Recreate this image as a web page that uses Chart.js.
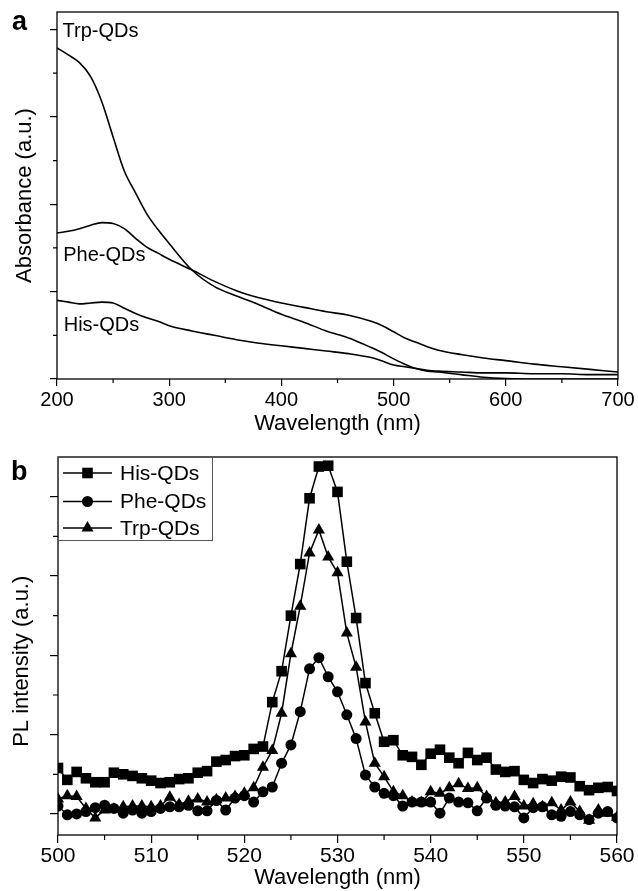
<!DOCTYPE html>
<html>
<head>
<meta charset="utf-8">
<script src="https://cdn.jsdelivr.net/npm/chart.js"></script>
<style>
  body { margin: 0; background: #fff; }
  #wrap { position: relative; width: 638px; height: 891px; }
  canvas { position: absolute; left: 0; }
  #absChart { top: 0; }
  #plChart { top: 440px; }
</style>
</head>
<body>
<div id="wrap">
  <canvas id="absChart" width="638" height="440"></canvas>
  <canvas id="plChart" width="638" height="451"></canvas>
</div>
<script>
// panel a - absorbance
const absWavelength = [200, 210, 220, 230, 240, 250, 260, 270, 280, 290, 300, 320, 340, 360, 380, 400, 420, 440, 460, 480, 490, 500, 510, 520, 530, 540, 560, 580, 600, 625, 650, 675, 700];
const absTrp = [3.79, 3.71, 3.62, 3.46, 3.17, 2.77, 2.38, 2.13, 1.89, 1.71, 1.55, 1.25, 1.06, 0.95, 0.85, 0.74, 0.65, 0.55, 0.47, 0.36, 0.30, 0.23, 0.17, 0.12, 0.09, 0.08, 0.05, 0.02, 0.005, 0, 0, 0, 0];
const absPhe = [1.67, 1.69, 1.72, 1.76, 1.79, 1.78, 1.72, 1.61, 1.51, 1.44, 1.37, 1.25, 1.12, 1.01, 0.93, 0.87, 0.82, 0.77, 0.73, 0.66, 0.61, 0.54, 0.47, 0.42, 0.37, 0.33, 0.28, 0.24, 0.21, 0.17, 0.14, 0.11, 0.08];
const absHis = [0.90, 0.88, 0.86, 0.87, 0.88, 0.87, 0.81, 0.75, 0.70, 0.66, 0.61, 0.55, 0.50, 0.45, 0.41, 0.38, 0.35, 0.32, 0.29, 0.245, 0.205, 0.16, 0.14, 0.12, 0.10, 0.09, 0.08, 0.07, 0.07, 0.06, 0.06, 0.05, 0.05];
const absXTicks = [200, 300, 400, 500, 600, 700];
const absXMinor = [250, 350, 450, 550, 650];
const absYTicks = [0, 1, 2, 3, 4];
const absYMinor = [0.5, 1.5, 2.5, 3.5];

// panel b - PL
const plWavelength = [500, 501, 502, 503, 504, 505, 506, 507, 508, 509, 510, 511, 512, 513, 514, 515, 516, 517, 518, 519, 520, 521, 522, 523, 524, 525, 526, 527, 528, 529, 530, 531, 532, 533, 534, 535, 536, 537, 538, 539, 540, 541, 542, 543, 544, 545, 546, 547, 548, 549, 550, 551, 552, 553, 554, 555, 556, 557, 558, 559, 560];
const plHis = [0.58, 0.43, 0.53, 0.45, 0.40, 0.40, 0.52, 0.50, 0.48, 0.45, 0.42, 0.39, 0.40, 0.44, 0.45, 0.52, 0.54, 0.66, 0.68, 0.73, 0.74, 0.82, 0.85, 1.41, 1.80, 2.50, 3.15, 3.98, 4.38, 4.39, 4.06, 3.18, 2.47, 1.65, 1.27, 0.91, 0.93, 0.74, 0.72, 0.62, 0.76, 0.81, 0.71, 0.64, 0.77, 0.68, 0.71, 0.56, 0.53, 0.54, 0.43, 0.39, 0.44, 0.42, 0.47, 0.46, 0.35, 0.30, 0.33, 0.34, 0.29];
const plPhe = [0.10, -0.01, 0.00, 0.03, 0.08, 0.11, 0.07, 0.01, 0.05, 0.01, 0.03, 0.07, 0.09, 0.09, 0.11, 0.04, 0.04, 0.17, 0.05, 0.20, 0.23, 0.15, 0.28, 0.34, 0.64, 0.87, 1.29, 1.83, 1.97, 1.73, 1.54, 1.25, 0.95, 0.49, 0.34, 0.26, 0.23, 0.10, 0.15, 0.15, 0.15, 0.01, 0.20, 0.15, 0.14, 0.04, 0.20, 0.11, 0.10, 0.09, -0.05, 0.08, 0.09, -0.01, -0.03, 0.03, -0.01, -0.07, 0.01, 0.03, -0.05];
const plTrp = [0.19, 0.23, 0.22, 0.07, -0.05, 0.05, 0.06, 0.09, 0.10, 0.10, 0.09, 0.10, 0.21, 0.12, 0.16, 0.19, 0.15, 0.18, 0.20, 0.22, 0.26, 0.33, 0.59, 0.80, 1.27, 2.02, 2.62, 3.29, 3.58, 3.24, 3.04, 2.28, 1.85, 1.16, 0.64, 0.47, 0.28, 0.23, 0.15, 0.14, 0.28, 0.26, 0.33, 0.38, 0.32, 0.33, 0.22, 0.14, 0.15, 0.22, 0.10, 0.13, 0.09, 0.14, 0.05, 0.15, 0.03, -0.08, 0.05, 0.01, -0.04];
const plXTicks = [500, 510, 520, 530, 540, 550, 560];
const plXMinor = [505, 515, 525, 535, 545, 555];
const plYTicks = [0, 1, 2, 3, 4];
const plYMinor = [0.5, 1.5, 2.5, 3.5];

Chart.defaults.font.family = '"Liberation Sans", Arial, Helvetica, sans-serif';
Chart.defaults.color = '#000';

function points(xs, ys) {
  return xs.map((x, i) => ({ x: x, y: ys[i] }));
}

// box round the plot area
const frame = {
  id: 'frame',
  afterDraw(chart) {
    const { ctx, chartArea: a } = chart;
    ctx.save();
    ctx.strokeStyle = '#000';
    ctx.lineWidth = 1.3;
    ctx.strokeRect(a.left, a.top, a.right - a.left, a.bottom - a.top);
    ctx.restore();
  }
};

// short ticks between the labelled ones
const minorTicks = {
  id: 'minorTicks',
  afterDraw(chart, args, opts) {
    const { ctx, chartArea: a, scales } = chart;
    ctx.save();
    ctx.strokeStyle = '#000';
    ctx.lineWidth = 1.2;
    ctx.beginPath();
    (opts.x || []).forEach(v => {
      const px = scales.x.getPixelForValue(v);
      ctx.moveTo(px, a.bottom);
      ctx.lineTo(px, a.bottom + opts.len);
    });
    (opts.y || []).forEach(v => {
      const py = scales.y.getPixelForValue(v);
      ctx.moveTo(a.left, py);
      ctx.lineTo(a.left - opts.len, py);
    });
    ctx.stroke();
    ctx.restore();
  }
};

const panelTag = {
  id: 'panelTag',
  afterDraw(chart, args, opts) {
    const ctx = chart.ctx;
    ctx.save();
    ctx.font = 'bold 27px "Liberation Sans", Arial, sans-serif';
    ctx.fillStyle = '#000';
    ctx.textBaseline = 'alphabetic';
    ctx.fillText(opts.text, opts.x, opts.y);
    ctx.restore();
  }
};

// names written next to the curves (panel a)
const curveLabels = {
  id: 'curveLabels',
  afterDraw(chart, args, opts) {
    const { ctx, scales } = chart;
    ctx.save();
    ctx.font = '20px "Liberation Sans", Arial, sans-serif';
    ctx.fillStyle = '#000';
    ctx.textBaseline = 'alphabetic';
    (opts.items || []).forEach(it => {
      ctx.fillText(it.text, scales.x.getPixelForValue(it.x), scales.y.getPixelForValue(it.y));
    });
    ctx.restore();
  }
};

function drawMarker(ctx, style, x, y, r) {
  ctx.beginPath();
  if (style === 'rect') {
    const s = Math.SQRT1_2 * r;
    ctx.rect(x - s, y - s, 2 * s, 2 * s);
  } else if (style === 'circle') {
    ctx.arc(x, y, r, 0, Math.PI * 2);
  } else {
    ctx.moveTo(x, y - r);
    ctx.lineTo(x + r * Math.sin(2 * Math.PI / 3), y + r / 2);
    ctx.lineTo(x - r * Math.sin(2 * Math.PI / 3), y + r / 2);
    ctx.closePath();
  }
  ctx.fill();
}

// legend with line + marker inside a box (panel b)
const plLegend = {
  id: 'plLegend',
  afterDraw(chart) {
    const { ctx, chartArea: a } = chart;
    const left = a.left, top = a.top;
    ctx.save();
    ctx.fillStyle = '#fff';
    ctx.fillRect(left + 1, top + 1, 153, 82);
    ctx.strokeStyle = '#555';
    ctx.lineWidth = 1;
    ctx.strokeRect(left + 0.5, top + 0.5, 154, 83);
    const rows = [16, 44.5, 71];
    chart.data.datasets.forEach((ds, i) => {
      const y = top + rows[i];
      ctx.strokeStyle = '#000';
      ctx.lineWidth = 1.5;
      ctx.beginPath();
      ctx.moveTo(left + 5, y);
      ctx.lineTo(left + 54, y);
      ctx.stroke();
      ctx.fillStyle = '#000';
      drawMarker(ctx, ds.pointStyle, left + 29.5, y, ds.pointRadius);
      ctx.font = '21px "Liberation Sans", Arial, sans-serif';
      ctx.textBaseline = 'middle';
      ctx.fillText(ds.label, left + 62, y + 1);
    });
    ctx.restore();
  }
};

function axisGrid(len) {
  return { drawOnChartArea: false, drawTicks: true, tickLength: len, color: '#000', tickColor: '#000', lineWidth: 1.2 };
}

const absChart = new Chart(document.getElementById('absChart'), {
  type: 'line',
  data: {
    datasets: [
      { label: 'Trp-QDs', data: points(absWavelength, absTrp), borderColor: '#000', borderWidth: 1.6, pointRadius: 0, cubicInterpolationMode: 'monotone' },
      { label: 'Phe-QDs', data: points(absWavelength, absPhe), borderColor: '#000', borderWidth: 1.6, pointRadius: 0, cubicInterpolationMode: 'monotone' },
      { label: 'His-QDs', data: points(absWavelength, absHis), borderColor: '#000', borderWidth: 1.6, pointRadius: 0, cubicInterpolationMode: 'monotone' }
    ]
  },
  options: {
    responsive: false,
    animation: false,
    layout: { padding: { top: 12, right: 20, left: 0, bottom: 0 } },
    plugins: {
      legend: { display: false },
      tooltip: { enabled: false },
      minorTicks: { x: absXMinor, y: absYMinor, len: 4 },
      panelTag: { text: 'a', x: 12, y: 30 },
      curveLabels: {
        items: [
          { text: 'Trp-QDs', x: 205, y: 3.91 },
          { text: 'Phe-QDs', x: 205.5, y: 1.35 },
          { text: 'His-QDs', x: 206, y: 0.55 }
        ]
      }
    },
    scales: {
      x: {
        type: 'linear', min: 200, max: 700,
        afterBuildTicks: s => { s.ticks = absXTicks.map(v => ({ value: v })); },
        afterFit: s => { s.height = 61; },
        grid: axisGrid(7),
        border: { display: false },
        ticks: { font: { size: 20 }, padding: 2, maxRotation: 0 },
        title: { display: true, text: 'Wavelength (nm)', font: { size: 22 }, padding: { top: 0, bottom: 3 } }
      },
      y: {
        type: 'linear', min: 0, max: 4.2,
        afterBuildTicks: s => { s.ticks = absYTicks.map(v => ({ value: v })); },
        afterFit: s => { s.width = 57; },
        grid: axisGrid(7),
        border: { display: false },
        ticks: { display: false },
        title: { display: true, text: 'Absorbance (a.u.)', font: { size: 22 }, padding: { top: 12, bottom: 0 } }
      }
    }
  },
  plugins: [frame, minorTicks, panelTag, curveLabels]
});

const plChart = new Chart(document.getElementById('plChart'), {
  type: 'line',
  data: {
    datasets: [
      { label: 'His-QDs', data: points(plWavelength, plHis), borderColor: '#000', borderWidth: 1.5, pointStyle: 'rect', pointRadius: 7.5, pointBackgroundColor: '#000', pointBorderWidth: 0 },
      { label: 'Phe-QDs', data: points(plWavelength, plPhe), borderColor: '#000', borderWidth: 1.5, pointStyle: 'circle', pointRadius: 5.5, pointBackgroundColor: '#000', pointBorderWidth: 0 },
      { label: 'Trp-QDs', data: points(plWavelength, plTrp), borderColor: '#000', borderWidth: 1.5, pointStyle: 'triangle', pointRadius: 7, pointBackgroundColor: '#000', pointBorderWidth: 0 }
    ]
  },
  options: {
    responsive: false,
    animation: false,
    layout: { padding: { top: 17, right: 21, left: 0, bottom: 0 } },
    plugins: {
      legend: { display: false },
      tooltip: { enabled: false },
      minorTicks: { x: plXMinor, y: plYMinor, len: 5 },
      panelTag: { text: 'b', x: 11, y: 40 }
    },
    scales: {
      x: {
        type: 'linear', min: 500, max: 560,
        afterBuildTicks: s => { s.ticks = plXTicks.map(v => ({ value: v })); },
        afterFit: s => { s.height = 56; },
        grid: axisGrid(8),
        border: { display: false },
        ticks: { font: { size: 21 }, padding: 1, maxRotation: 0 },
        title: { display: true, text: 'Wavelength (nm)', font: { size: 22 }, padding: { top: 0, bottom: 0 } }
      },
      y: {
        type: 'linear', min: -0.265, max: 4.5,
        afterBuildTicks: s => { s.ticks = plYTicks.map(v => ({ value: v })); },
        afterFit: s => { s.width = 58; },
        grid: axisGrid(8),
        border: { display: false },
        ticks: { display: false },
        title: { display: true, text: 'PL intensity (a.u.)     ', font: { size: 22 }, padding: { top: 9, bottom: 0 } }
      }
    }
  },
  plugins: [frame, minorTicks, panelTag, plLegend]
});
</script>
</body>
</html>
